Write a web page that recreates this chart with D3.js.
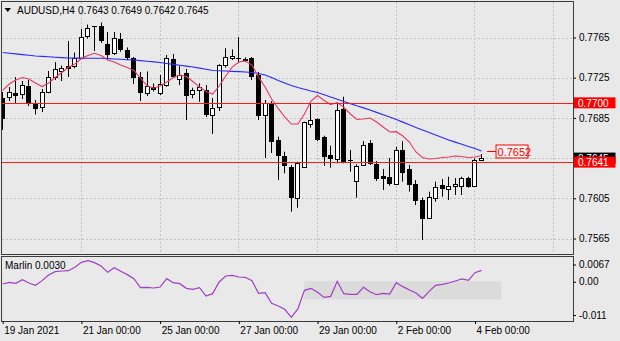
<!DOCTYPE html>
<html>
<head>
<meta charset="utf-8">
<script src="https://cdn.jsdelivr.net/npm/d3@7/dist/d3.min.js"></script>
<style>
  html, body { margin: 0; padding: 0; background: #e9e9e9; }
  svg { display: block; }
  text { font-family: "Liberation Sans", Arial, sans-serif; font-size: 10px; }
</style>
</head>
<body>
<svg id="chart" width="620" height="341"></svg>
<script>
// AUDUSD H4 candles, 19 Jan 2021 00:00 .. 4 Feb 2021 04:00
const symbolTitle = "AUDUSD,H4";
const open = [0.77048,0.77058,0.77095,0.77085,0.77167,0.77003,0.76955,0.77108,0.7726,0.77317,
0.77366,0.77366,0.77446,0.77668,0.77761,0.77764,0.7759,0.77493,0.77635,0.77526,
0.77446,0.77257,0.77093,0.77157,0.77098,0.77177,0.77436,0.77237,0.77297,0.77085,
0.77128,0.77128,0.76879,0.76961,0.77376,0.77443,0.77442,0.77441,0.77446,0.77277,
0.76879,0.76988,0.7663,0.76471,0.76361,0.76056,0.76364,0.76786,0.76839,0.7666,
0.76481,0.76441,0.76939,0.76431,0.76222,0.76381,0.76597,0.76388,0.76272,0.76265,
0.76189,0.76531,0.76342,0.76189,0.76033,0.75857,0.7605,0.76182,0.76143,0.76175,
0.76175,0.76255,0.76175,0.7643];
const high = [0.77108,0.77157,0.77257,0.77217,0.77227,0.77028,0.77138,0.77317,0.77406,0.77371,
0.77615,0.77501,0.77735,0.77779,0.77764,0.778,0.77705,0.77705,0.77695,0.77551,
0.77456,0.77307,0.77312,0.77192,0.77277,0.77476,0.77486,0.77366,0.77337,0.77151,
0.77194,0.77177,0.77048,0.77383,0.77543,0.77531,0.77655,0.77453,0.77456,0.77307,
0.77028,0.77018,0.76663,0.76514,0.76381,0.76414,0.76812,0.76995,0.76846,0.76673,
0.76573,0.77005,0.77061,0.76531,0.76388,0.7662,0.7663,0.76421,0.76342,0.76451,
0.76563,0.7662,0.76381,0.76232,0.76056,0.76116,0.76215,0.76242,0.76265,0.76252,
0.76265,0.76265,0.76448,0.7649];
const low = [0.7673,0.77018,0.76998,0.77038,0.76968,0.76884,0.76909,0.77095,0.77227,0.77217,
0.77257,0.77344,0.77436,0.7764,0.77516,0.77595,0.77436,0.77476,0.77509,0.77426,
0.77187,0.77018,0.77068,0.77113,0.77078,0.7716,0.77247,0.77177,0.76829,0.77045,
0.77011,0.76859,0.7669,0.76919,0.77351,0.77426,0.77401,0.77406,0.77227,0.76829,
0.76451,0.76501,0.76232,0.76299,0.75917,0.75956,0.76354,0.76752,0.7662,0.76374,
0.76354,0.76398,0.76398,0.76315,0.76056,0.76374,0.76381,0.76222,0.76133,0.76175,
0.76182,0.76215,0.76116,0.75983,0.75635,0.75844,0.76016,0.76066,0.76033,0.76083,
0.76083,0.76155,0.76165,0.7642];
const close = [0.76849,0.77103,0.77075,0.77182,0.77003,0.76949,0.77103,0.7726,0.77337,0.7735,
0.77347,0.77443,0.77658,0.77748,0.77751,0.77625,0.77486,0.7765,0.77531,0.77459,
0.77252,0.77103,0.77167,0.77138,0.77187,0.77443,0.77267,0.77277,0.77078,0.77128,
0.77157,0.76889,0.76953,0.77376,0.77451,0.77463,0.7744,0.77426,0.77262,0.76879,
0.76995,0.7662,0.76481,0.76381,0.76066,0.76398,0.76806,0.76829,0.7664,0.76474,
0.76454,0.76929,0.76414,0.76426,0.76374,0.7658,0.76398,0.76255,0.76255,0.76199,
0.76531,0.76315,0.76189,0.76033,0.75857,0.76066,0.76165,0.76155,0.76175,0.76189,
0.76255,0.76175,0.7643,0.7645];

// moving averages
const maFast = [0.77123,0.77187,0.77227,0.77252,0.77237,0.77197,0.77162,0.77197,0.77252,0.77302,
0.77351,0.77386,0.77441,0.77471,0.77493,0.77471,0.77426,0.77406,0.77376,0.77351,
0.77322,0.77247,0.77172,0.77145,0.77167,0.77207,0.77252,0.77277,0.77262,0.77212,
0.77157,0.77113,0.77088,0.77167,0.77267,0.77356,0.77406,0.77416,0.77376,0.77257,
0.77157,0.77038,0.76944,0.76859,0.76789,0.76789,0.76889,0.77018,0.77073,0.77023,
0.76983,0.77003,0.76958,0.76889,0.76834,0.76839,0.76849,0.76809,0.76759,0.7671,
0.76713,0.7667,0.7661,0.76511,0.76456,0.76441,0.76446,0.76456,0.76461,0.76471,
0.76466,0.76456,0.76461,0.76476];
const maSlow = [0.77501,0.77494,0.77487,0.7748,0.77473,0.77466,0.77462,0.77458,0.77454,0.7745,
0.77446,0.77445,0.77445,0.77444,0.77444,0.77443,0.7744,0.77436,0.77433,0.77429,
0.77426,0.7742,0.77414,0.77407,0.77401,0.77392,0.77383,0.77374,0.77365,0.77356,
0.77345,0.77334,0.77322,0.77319,0.77316,0.77313,0.7731,0.77307,0.77302,0.77292,
0.77277,0.77252,0.77222,0.77197,0.77172,0.77152,0.77135,0.77118,0.77103,0.7708,
0.77058,0.77035,0.77013,0.76992,0.7697,0.7695,0.76929,0.76905,0.76881,0.76858,
0.76834,0.76808,0.76782,0.76755,0.7673,0.76705,0.7668,0.76655,0.7663,0.76609,
0.76587,0.76566,0.76546,0.76521];

// Marlin oscillator
const marlin = [-0.00077,-0.00031,-0.00058,0.00043,-0.00049,-0.00114,0.00016,0.00172,0.00264,0.00283,
0.00292,0.00384,0.00523,0.00569,0.00513,0.00421,0.00246,0.00375,0.00274,0.00182,
0.00071,-0.00178,-0.00169,-0.00187,-0.0016,0.00071,-0.0004,-0.00067,-0.00197,-0.00224,
-0.00178,-0.00409,-0.00344,-0.00021,0.00145,0.00163,0.00117,0.00108,0.00016,-0.00335,
-0.00316,-0.00611,-0.00685,-0.00777,-0.00998,-0.00768,-0.00252,-0.00197,-0.00307,-0.00446,
-0.00418,-0.00003,-0.00344,-0.00362,-0.00362,-0.00169,-0.00289,-0.00372,-0.00335,-0.00353,
-0.0004,-0.0015,-0.00243,-0.00325,-0.00473,-0.00279,-0.00114,-0.00086,-0.00049,0.00006,
0.00062,0.00025,0.00237,0.0030];
const marlinZone = [0, -0.005];
const marlinZoneBars = [46, 76];

const dateTickBars = [0, 12, 24, 36, 48, 60, 72];
const dateTickLabels = ["19 Jan 2021", "21 Jan 00:00", "25 Jan 00:00", "27 Jan 00:00", "29 Jan 00:00", "2 Feb 00:00", "4 Feb 00:00"];
const gridBars = [12, 24, 36, 48, 60, 72, 84];
const priceTicks = [0.7565, 0.7605, 0.7645, 0.7685, 0.7725, 0.7765];
const marlinTicks = [0.0067, 0, -0.011];
const marlinTickLabels = ["0.0067", "0.00", "-0.011"];
const levels = [0.7700, 0.7641];
const targetPrice = 0.7652;

// layout
const L = 2, R = 573, mainTop = 2, mainBottom = 254, indTop = 257, indBottom = 321;

const svg = d3.select("#chart");
const x = d3.scaleLinear().domain([0, 84]).range([2.7, 553.7]);
const y = d3.scaleLinear().domain([0.7565, 0.7765]).range([238.5, 37.5]);
const yi = d3.scaleLinear().domain([-0.011, 0.0067]).range([indBottom, indTop]);
const fmt4 = d3.format(".4f");

svg.append("rect").attr("width", 620).attr("height", 341).attr("fill", "#e9e9e9");

const defs = svg.append("defs");
defs.append("clipPath").attr("id", "clipMain").append("rect")
  .attr("x", L).attr("y", mainTop).attr("width", R - L).attr("height", mainBottom - mainTop);
defs.append("clipPath").attr("id", "clipInd").append("rect")
  .attr("x", L).attr("y", indTop).attr("width", R - L).attr("height", indBottom - indTop);

// ---------- main panel ----------
const main = svg.append("g").attr("clip-path", "url(#clipMain)");

// grid
main.selectAll("line.hgrid").data(priceTicks).enter().append("line")
  .attr("x1", L).attr("x2", R)
  .attr("y1", d => Math.round(y(d)) + 0.5).attr("y2", d => Math.round(y(d)) + 0.5)
  .attr("stroke", "#c2c2c2").attr("stroke-dasharray", "2,2");
main.selectAll("line.vgrid").data(gridBars).enter().append("line")
  .attr("x1", d => Math.floor(x(d)) + 0.5).attr("x2", d => Math.floor(x(d)) + 0.5)
  .attr("y1", mainTop).attr("y2", mainBottom)
  .attr("stroke", "#c2c2c2").attr("stroke-dasharray", "2,2");

// candles
const idx = d3.range(open.length);
const candles = main.selectAll("g.candle").data(idx).enter().append("g");
candles.append("line")
  .attr("x1", i => Math.floor(x(i)) + 0.5).attr("x2", i => Math.floor(x(i)) + 0.5)
  .attr("y1", i => y(high[i])).attr("y2", i => y(low[i]))
  .attr("stroke", "#000").attr("stroke-width", 1);
candles.each(function(i) {
  const g = d3.select(this);
  const xc = Math.floor(x(i)) + 0.5;
  const top = y(Math.max(open[i], close[i]));
  const bot = y(Math.min(open[i], close[i]));
  const bull = close[i] >= open[i];
  if (bot - top < 1.2) {
    g.append("line").attr("x1", xc - 2.5).attr("x2", xc + 2.5)
      .attr("y1", Math.round(top) + 0.5).attr("y2", Math.round(top) + 0.5)
      .attr("stroke", "#000");
  } else {
    g.append("rect").attr("x", xc - 2).attr("width", 4)
      .attr("y", Math.round(top) + 0.5).attr("height", Math.max(1, Math.round(bot) - Math.round(top)))
      .attr("fill", bull ? "#ffffff" : "#000000").attr("stroke", "#000").attr("stroke-width", 1);
  }
});

// moving averages over the candles
main.append("path").datum(idx)
  .attr("fill", "none").attr("stroke", "#2a2aff").attr("stroke-width", 1.1)
  .attr("d", d3.line().x(i => x(i)).y(i => y(maSlow[i])));
main.append("path").datum(idx)
  .attr("fill", "none").attr("stroke", "#e8375f").attr("stroke-width", 1.1)
  .attr("d", d3.line().x(i => x(i)).y(i => y(maFast[i])));

// horizontal levels
main.selectAll("line.level").data(levels).enter().append("line")
  .attr("x1", L).attr("x2", R)
  .attr("y1", d => Math.round(y(d)) + 0.5).attr("y2", d => Math.round(y(d)) + 0.5)
  .attr("stroke", "#ff1a1a").attr("stroke-width", 1);

// target price tag
const last = open.length - 1;
const ty = Math.round(y(targetPrice)) + 0.5;
main.append("line").attr("x1", x(last) + 5.5).attr("x2", x(last) + 14.5)
  .attr("y1", ty).attr("y2", ty).attr("stroke", "#ff0000");
main.append("rect").attr("x", x(last) + 14.5).attr("y", ty - 6.5).attr("width", 32).attr("height", 13)
  .attr("fill", "#f2f2f2").attr("stroke", "#ff0000");
main.append("text").attr("x", x(last) + 16).attr("y", ty + 4)
  .attr("fill", "#ff0000").style("font-size", "11px").text(fmt4(targetPrice));

// title
svg.append("path").attr("d", "M4.5,8 L11,8 L7.75,12 Z").attr("fill", "#000");
svg.append("text").attr("x", 17).attr("y", 14).attr("fill", "#000").text(symbolTitle);
svg.append("text").attr("x", 78).attr("y", 14).attr("fill", "#000")
  .text([open[last], high[last], low[last], close[last]].map(fmt4).join(" "));

// price axis
const yAxis = svg.append("g").attr("transform", `translate(${R},0)`)
  .call(d3.axisRight(y).tickValues(priceTicks).tickSize(3).tickPadding(3).tickFormat(fmt4));
yAxis.select(".domain").remove();
yAxis.selectAll("line").attr("stroke", "#000");
yAxis.selectAll("text").attr("fill", "#000").style("font-size", "10px");

// price labels on the axis
function axisTag(price, fill) {
  const cy = y(price);
  svg.append("rect").attr("x", R + 0.5).attr("y", cy - 5.5).attr("width", 42).attr("height", 11).attr("fill", fill);
  svg.append("text").attr("x", R + 5).attr("y", cy + 4).attr("fill", "#fff").text(fmt4(price));
}
axisTag(close[last], "#000");
levels.forEach(p => axisTag(p, "#ff0000"));

// frames
svg.append("rect").attr("x", L - 0.5).attr("y", mainTop - 0.5).attr("width", R - L + 1).attr("height", mainBottom - mainTop + 1)
  .attr("fill", "none").attr("stroke", "#3c3c3c");

// ---------- indicator panel ----------
const ind = svg.append("g").attr("clip-path", "url(#clipInd)");
ind.append("rect")
  .attr("x", x(marlinZoneBars[0])).attr("width", x(marlinZoneBars[1]) - x(marlinZoneBars[0]))
  .attr("y", yi(marlinZone[0])).attr("height", yi(marlinZone[1]) - yi(marlinZone[0]))
  .attr("fill", "#dbdbdb");
ind.append("path").datum(idx)
  .attr("fill", "none").attr("stroke", "#a23ec4").attr("stroke-width", 1.2)
  .attr("d", d3.line().x(i => x(i)).y(i => yi(marlin[i])));

svg.append("text").attr("x", 5).attr("y", 269).attr("fill", "#000")
  .text("Marlin " + d3.format(".4f")(marlin[last]));

svg.append("rect").attr("x", L - 0.5).attr("y", indTop - 0.5).attr("width", R - L + 1).attr("height", indBottom - indTop + 1)
  .attr("fill", "none").attr("stroke", "#3c3c3c");

const iAxis = svg.append("g").attr("transform", `translate(${R},0)`)
  .call(d3.axisRight(yi).tickValues(marlinTicks).tickSize(3).tickPadding(3)
    .tickFormat((d, k) => marlinTickLabels[k]));
iAxis.select(".domain").remove();
iAxis.selectAll(".tick").attr("transform", (d, k) => {
  const shift = k === 0 ? 8 : (k === marlinTicks.length - 1 ? -5.5 : 1);
  return `translate(0,${yi(d) + shift})`;
});
iAxis.selectAll("line").attr("stroke", "#000");
iAxis.selectAll("text").attr("fill", "#000").style("font-size", "10px");

// time axis
const xAxis = svg.append("g").attr("transform", `translate(0,${indBottom})`)
  .call(d3.axisBottom(x).tickValues(dateTickBars).tickSize(3).tickPadding(3)
    .tickFormat((d, k) => dateTickLabels[k]));
xAxis.select(".domain").remove();
xAxis.selectAll("line").attr("stroke", "#000");
xAxis.selectAll("text").attr("fill", "#000").attr("text-anchor", "start").attr("dx", 1).style("font-size", "10px");
</script>
</body>
</html>
